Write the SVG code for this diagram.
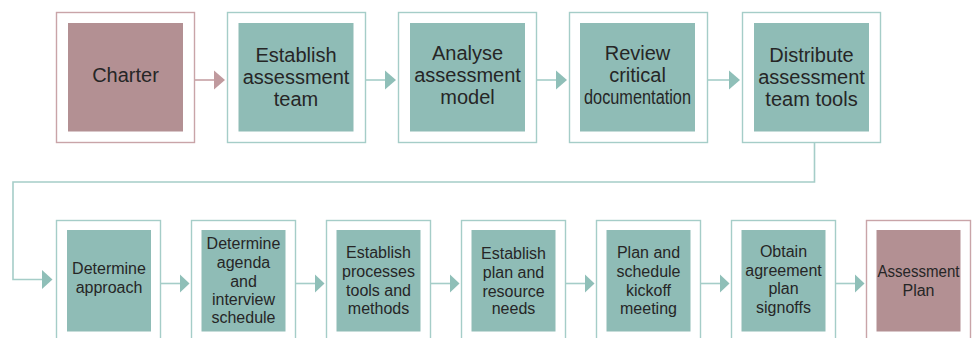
<svg xmlns="http://www.w3.org/2000/svg" width="976" height="338" viewBox="0 0 976 338">
<style>
.ot{fill:#fff;stroke:#a5cdc8;stroke-width:1.4}
.op{fill:#fff;stroke:#c9a4a8;stroke-width:1.4}
.it{fill:#8fbcb6}
.ip{fill:#b39093}
.ln{fill:none;stroke:#a5cdc8;stroke-width:1.6}
.lp{fill:none;stroke:#c6a0a4;stroke-width:1.6}
.ht{fill:#8fbfb8}
.hp{fill:#c09a9e}
text{font-family:"Liberation Sans",Arial,Helvetica,sans-serif;fill:#262626;text-anchor:middle}
.t1{font-size:20px}
.t2{font-size:16px}
</style>
<rect width="976" height="338" fill="#fff"/>
<g id="connectors">
<line class="lp" x1="194.5" y1="80" x2="215" y2="80"/>
<polygon class="hp" points="214,70.5 225,80 214,89.5"/>
<line class="ln" x1="365.5" y1="80" x2="386" y2="80"/>
<polygon class="ht" points="385,70.5 396,80 385,89.5"/>
<line class="ln" x1="536.5" y1="80" x2="557" y2="80"/>
<polygon class="ht" points="556,70.5 567,80 556,89.5"/>
<line class="ln" x1="707.5" y1="80" x2="730" y2="80"/>
<polygon class="ht" points="729,70.5 740,80 729,89.5"/>
<polyline class="ln" points="814.5,142.5 814.5,182 13,182 13,279.5 43,279.5"/>
<polygon class="ht" points="42,270 52.5,279.5 42,289"/>
<line class="ln" x1="160.5" y1="283.5" x2="181" y2="283.5"/>
<polygon class="ht" points="180,274.5 189.5,283.5 180,292.5"/>
<line class="ln" x1="295.5" y1="283.5" x2="316" y2="283.5"/>
<polygon class="ht" points="315,274.5 324.5,283.5 315,292.5"/>
<line class="ln" x1="430.5" y1="283.5" x2="451" y2="283.5"/>
<polygon class="ht" points="450,274.5 459.5,283.5 450,292.5"/>
<line class="ln" x1="565.5" y1="283.5" x2="586" y2="283.5"/>
<polygon class="ht" points="585,274.5 594.5,283.5 585,292.5"/>
<line class="ln" x1="700.5" y1="283.5" x2="721" y2="283.5"/>
<polygon class="ht" points="720,274.5 729.5,283.5 720,292.5"/>
<line class="ln" x1="835.5" y1="283.5" x2="856" y2="283.5"/>
<polygon class="ht" points="855,274.5 864.5,283.5 855,292.5"/>
</g>
<g id="charter">
<rect class="op" x="56.5" y="12.5" width="138" height="130"/>
<rect class="ip" x="68" y="23" width="115" height="108.5"/>
<text class="t1" x="125.5" y="82">Charter</text>
</g>
<g id="establish-team">
<rect class="ot" x="227.5" y="12.5" width="138" height="130"/>
<rect class="it" x="238.5" y="23" width="115" height="108.5"/>
<text class="t1" x="296" y="62">Establish</text>
<text class="t1" x="296" y="84">assessment</text>
<text class="t1" x="296" y="106">team</text>
</g>
<g id="analyse-model">
<rect class="ot" x="398.5" y="12.5" width="138" height="130"/>
<rect class="it" x="410" y="23" width="115" height="108.5"/>
<text class="t1" x="467.5" y="59.5">Analyse</text>
<text class="t1" x="467.5" y="81.5">assessment</text>
<text class="t1" x="467.5" y="104">model</text>
</g>
<g id="review-docs">
<rect class="ot" x="569.5" y="12.5" width="138" height="130"/>
<rect class="it" x="580" y="23" width="115" height="108.5"/>
<text class="t1" x="637.5" y="59.5">Review</text>
<text class="t1" x="637.5" y="81.5">critical</text>
<text class="t1" x="637.5" y="104" textLength="107" lengthAdjust="spacingAndGlyphs">documentation</text>
</g>
<g id="distribute-tools">
<rect class="ot" x="742.5" y="12.5" width="138" height="130"/>
<rect class="it" x="754" y="23" width="115" height="108.5"/>
<text class="t1" x="811.5" y="62">Distribute</text>
<text class="t1" x="811.5" y="84">assessment</text>
<text class="t1" x="811.5" y="106">team tools</text>
</g>
<g id="determine-approach">
<rect class="ot" x="56.5" y="220.5" width="104" height="130"/>
<rect class="it" x="67" y="230" width="84" height="101.5"/>
<text class="t2" x="109" y="274">Determine</text>
<text class="t2" x="109" y="292.7">approach</text>
</g>
<g id="determine-agenda">
<rect class="ot" x="191.5" y="220.5" width="104" height="130"/>
<rect class="it" x="201.5" y="230" width="84" height="101.5"/>
<text class="t2" x="243.5" y="249.3">Determine</text>
<text class="t2" x="243.5" y="268">agenda</text>
<text class="t2" x="243.5" y="286.5">and</text>
<text class="t2" x="243.5" y="305">interview</text>
<text class="t2" x="243.5" y="323.3">schedule</text>
</g>
<g id="establish-processes">
<rect class="ot" x="326.5" y="220.5" width="104" height="130"/>
<rect class="it" x="336.5" y="230" width="84" height="101.5"/>
<text class="t2" x="378.5" y="258.3">Establish</text>
<text class="t2" x="378.5" y="277">processes</text>
<text class="t2" x="378.5" y="295.7">tools and</text>
<text class="t2" x="378.5" y="314">methods</text>
</g>
<g id="establish-plan">
<rect class="ot" x="461.5" y="220.5" width="104" height="130"/>
<rect class="it" x="471.5" y="230" width="84" height="101.5"/>
<text class="t2" x="513.5" y="259">Establish</text>
<text class="t2" x="513.5" y="277.7">plan and</text>
<text class="t2" x="513.5" y="296.5">resource</text>
<text class="t2" x="513.5" y="314.3">needs</text>
</g>
<g id="plan-kickoff">
<rect class="ot" x="596.5" y="220.5" width="104" height="130"/>
<rect class="it" x="606.5" y="230" width="84" height="101.5"/>
<text class="t2" x="648.5" y="258.3">Plan and</text>
<text class="t2" x="648.5" y="277.3">schedule</text>
<text class="t2" x="648.5" y="295.7">kickoff</text>
<text class="t2" x="648.5" y="314">meeting</text>
</g>
<g id="obtain-signoffs">
<rect class="ot" x="731.5" y="220.5" width="104" height="130"/>
<rect class="it" x="741.5" y="230" width="84" height="101.5"/>
<text class="t2" x="783.5" y="256.7">Obtain</text>
<text class="t2" x="783.5" y="275.5">agreement</text>
<text class="t2" x="783.5" y="294.3">plan</text>
<text class="t2" x="783.5" y="312.7">signoffs</text>
</g>
<g id="assessment-plan">
<rect class="op" x="866.5" y="220.5" width="104" height="130"/>
<rect class="ip" x="876.5" y="230" width="84" height="101.5"/>
<text class="t2" x="918.5" y="277.3" textLength="82" lengthAdjust="spacingAndGlyphs">Assessment</text>
<text class="t2" x="918.5" y="295.7">Plan</text>
</g>
</svg>
